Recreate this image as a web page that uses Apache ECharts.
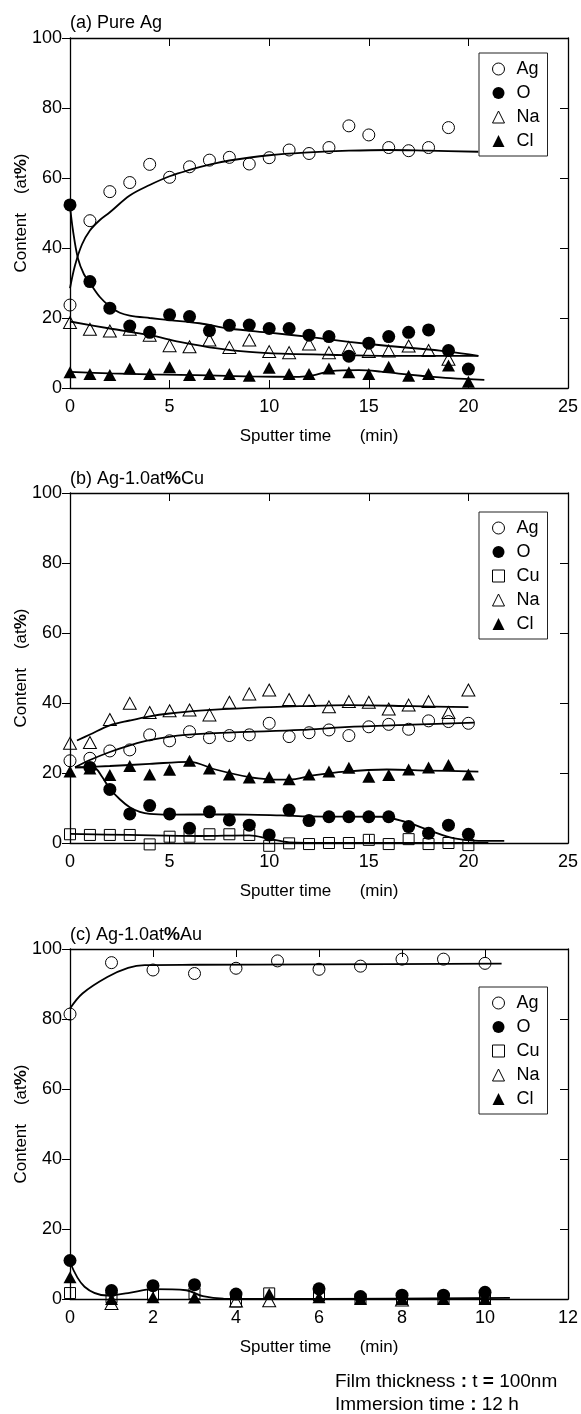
<!DOCTYPE html>
<html><head><meta charset="utf-8">
<script src="https://cdn.jsdelivr.net/npm/echarts@6/dist/echarts.min.js"></script>
<style>html,body{margin:0;padding:0;background:#fff}#c{width:581px;height:1414px}</style>
</head><body><div id="c"></div>
<script>
// ---------- DATA ----------
const panelTitles = ['(a) Pure Ag', '(b) Ag-1.0at%Cu', '(c) Ag-1.0at%Au'];
const xAxisTitle = 'Sputter time      (min)';
const yAxisTitle = 'Content    (at%)';
const footer1 = ['Film thickness', ' : ', 't ', '= ', '100nm'];
const footer2 = ['Immersion time', ' : ', '12 h'];
const xMaxes = [25, 25, 12];
const xSteps = [5, 5, 2];
const yMax = 100, yStep = 20;
const legendNamesA = ['Ag', 'O', 'Na', 'Cl'];
const legendNamesBC = ['Ag', 'O', 'Cu', 'Na', 'Cl'];

// panel (a) Pure Ag
const aAg = [[0,23.7],[1,47.8],[2,56.1],[3,58.7],[4,63.9],[5,60.2],[6,63.2],[7,65.1],[8,65.9],[9,64],[10,65.8],[11,68],[12,67],[13,68.7],[14,74.9],[15,72.3],[16,68.7],[17,67.8],[18,68.7],[19,74.4]];
const aO  = [[0,52.3],[1,30.4],[2,22.8],[3,17.7],[4,15.9],[5,20.9],[6,20.4],[7,16.4],[8,17.9],[9,18],[10,17],[11,17],[12,15.1],[13,14.7],[14,9.1],[15,12.8],[16,14.7],[17,15.9],[18,16.6],[19,10.7],[20,5.4]];
const aNa = [[0,18.7],[1,16.8],[2,16.3],[3,16.8],[4,15.1],[5,12.1],[6,11.8],[7,13.7],[8,11.6],[9,13.7],[10,10.4],[11,10.1],[12,12.6],[13,10.1],[14,11.6],[15,10.4],[16,10.6],[17,12],[18,10.7],[19,8.2]];
const aCl = [[0,4.5],[1,4],[2,3.7],[3,5.6],[4,4],[5,5.9],[6,3.7],[7,4],[8,4],[9,3.5],[10,5.8],[11,4],[12,4],[13,5.6],[14,4.5],[15,4],[16,6.1],[17,3.5],[18,4],[19,6.4],[20,1.8]];
// fitted curves (a)
const aAgFit = [[0,28.5],[0.25,35],[0.6,41],[1,45],[1.5,48],[2,50.2],[3,55],[4,58],[5,60.5],[6,62.3],[7,63.8],[8,65],[10,66.5],[12,67.3],[14,67.8],[16,68],[18,67.8],[20.5,67.5]];
const aOFit  = [[0,52],[0.15,45],[0.4,37],[0.7,32.5],[1,30],[1.5,26],[2,23.3],[2.5,21.5],[3,20.7],[4,20],[5,19.4],[6.5,18.5],[8,17],[10,15.8],[12,14.6],[14,13.2],[16,12],[18,11],[19,10.4],[20.5,9.2]];
const aNaFit = [[0,19],[2,17],[4,15.1],[5.5,13.2],[7.4,11.3],[9,10.3],[10.6,9.8],[13,9.5],[15.6,9.2],[20.5,9.2]];
const aClFit = [[0,4.6],[2,4.2],[4,3.9],[7,3.6],[9,3.3],[11.5,3.2],[12.2,3.6],[13.1,4.8],[14.5,5.1],[15.6,4.7],[16.5,4.1],[17.6,3.5],[19.1,2.8],[20.8,2.3]];

// panel (b) Ag-1.0at%Cu
const bAg = [[0,23.5],[1,24.2],[2,26.3],[3,26.6],[4,30.9],[5,29.2],[6,31.8],[7,30.1],[8,30.7],[9,30.9],[10,34.2],[11,30.4],[12,31.5],[13,32.3],[14,30.7],[15,33.2],[16,33.9],[17,32.5],[18,34.9],[19,34.7],[20,34.2]];
const bO  = [[1,21.6],[2,15.3],[3,8.3],[4,10.7],[5,8.3],[6,4.2],[7,8.9],[8,6.6],[9,5.1],[10,2.3],[11,9.4],[12,6.4],[13,7.5],[14,7.5],[15,7.5],[16,7.5],[17,4.7],[18,2.8],[19,5.1],[20,2.5]];
const bCu = [[0,2.5],[1,2.3],[2,2.3],[3,2.3],[4,-0.4],[5,1.8],[6,1.8],[7,2.5],[8,2.5],[9,2.3],[10,-0.8],[11,-0.1],[12,-0.3],[13,0],[14,0],[15,0.9],[16,-0.3],[17,1.1],[18,-0.3],[19,0],[20,-0.6]];
const bNa = [[0,28.5],[1,28.7],[2,35.3],[3,39.9],[4,37.3],[5,37.8],[6,38],[7,36.6],[8,40.2],[9,42.6],[10,43.7],[11,41],[12,40.7],[13,38.9],[14,40.4],[15,40.2],[16,38.3],[17,39.4],[18,40.4],[19,37.3],[20,43.7]];
const bCl = [[0,20.4],[1,21.3],[2,19.4],[3,22],[4,19.6],[5,20.9],[6,23.5],[7,21.3],[8,19.6],[9,18.7],[10,18.8],[11,18.2],[12,19.6],[13,20.4],[14,21.5],[15,18.9],[16,19.4],[17,21],[18,21.6],[19,22.3],[20,19.6]];
// fitted curves (b)
const bAgFit = [[0.25,21.6],[1,23.7],[2,26],[3,27.9],[4,29.4],[5.8,30.9],[8.2,31.6],[11.6,32.3],[13.8,33.1],[17.2,33.8],[20.3,34.4]];
const bOFit  = [[0.25,21.6],[1.2,21.5],[1.6,19],[2,15.5],[2.5,12.5],[3,10.2],[3.5,8.9],[4,8.3],[5,8.1],[8,8.2],[10.6,7.9],[12,7.6],[15.6,7.5],[16.8,6.1],[18,3.7],[19.3,1.3],[20.5,0.6],[21.8,0.6]];
const bCuFit = [[0,2.6],[3,2.3],[6.5,2.0],[9,2.2],[10,1.2],[11,0.2],[13,0],[21,0]];
const bNaFit = [[0.35,29.3],[1,31],[2,33.6],[3,35],[4,36.2],[5,37],[6.5,37.8],[9,38.6],[11.6,39.1],[14,39.4],[17.2,39.1],[20,38.8]];
const bClFit = [[0.25,21.6],[2,22],[4,22.6],[6,23.2],[7.3,21],[9,18.8],[10,18.2],[11,18.1],[12.2,19.3],[13.8,20.4],[15.9,21],[18,20.7],[20.5,20.4]];

// panel (c) Ag-1.0at%Au
const cAg = [[0,81.4],[1,96.1],[2,94],[3,93],[4,94.5],[5,96.6],[6,94.2],[7,95.1],[8,97.1],[9,97.1],[10,95.9]];
const cO  = [[0,11],[1,2.4],[2,3.8],[3,4.1],[4,1.4],[6,2.9],[7,0.7],[8,1.1],[9,1.1],[10,1.9]];
const cCu = [[0,1.7],[1,0.5],[2,1.2],[3,1.6],[4,-0.7],[4.8,1.6],[6,1],[7,0],[8,0],[9,0],[10,0]];
const cNa = [[1,-1.3],[4,-0.6],[4.8,-0.5],[8,-0.3]];
const cCl = [[0,6.2],[1,0],[2,0.5],[3,0.4],[4.8,1.4],[6,0.5],[7,0],[8,0],[9,0],[10,0]];
// fitted curves (c)
const cAgFit = [[0,83],[0.3,87.3],[0.9,92],[1.4,94.6],[1.8,95.4],[3,95.5],[6,95.6],[10.4,95.8]];
const cOFit  = [[0,10.5],[0.35,3.5],[0.9,1],[1.4,1.7],[2,2.8],[2.8,2.5],[3.2,0.8],[3.7,0.1],[6,0],[10.6,0.3]];

// ---------- CHART ----------
const FONT = '"Liberation Sans", Arial, Helvetica, sans-serif';
const chart = echarts.init(document.getElementById('c'), null, {renderer: 'canvas'});

const gridTops = [38, 493, 949];
const GRID_LEFT = 70, GRID_W = 498, GRID_H = 350;

const markerStyles = {
  Ag: {symbol: 'circle', size: 12, hollow: true},
  O:  {symbol: 'circle', size: 13, hollow: false},
  Cu: {symbol: 'rect', size: 11, hollow: true},
  Na: {symbol: 'triangle', size: [13, 12], hollow: true},
  Cl: {symbol: 'triangle', size: [13, 12], hollow: false}
};
function itemStyleFor(name) {
  return markerStyles[name].hollow
    ? {color: 'transparent', borderColor: '#000', borderWidth: 1, opacity: 1}
    : {color: '#000', borderWidth: 0, opacity: 1};
}
const boldPct = s => s.replace('%', '{b|%}');

const panels = [
  {points: {Ag: aAg, O: aO, Na: aNa, Cl: aCl}, fits: [aAgFit, aOFit, aNaFit, aClFit], legend: legendNamesA},
  {points: {Ag: bAg, O: bO, Cu: bCu, Na: bNa, Cl: bCl}, fits: [bAgFit, bOFit, bCuFit, bNaFit, bClFit], legend: legendNamesBC},
  {points: {Ag: cAg, O: cO, Cu: cCu, Na: cNa, Cl: cCl}, fits: [cAgFit, cOFit], legend: legendNamesBC}
];

const grid = [], xAxis = [], yAxis = [], series = [], title = [], legend = [];
const axisLine = {show: true, onZero: false, lineStyle: {color: '#000', width: 1.3}};
const tickIn = {show: true, inside: true, length: 8, lineStyle: {color: '#000', width: 1}};
const tickOut = {show: true, inside: false, length: 8, lineStyle: {color: '#000', width: 1}};
const labelStyle = {fontSize: 18, color: '#000', fontFamily: FONT};
const legendTops = [53, 512, 987];
const titleTops = [14, 470, 926];

panels.forEach((p, i) => {
  grid.push({left: GRID_LEFT, top: gridTops[i], width: GRID_W, height: GRID_H, containLabel: false, outerBoundsMode: 'none'});
  const common = {type: 'value', gridIndex: i, min: 0, max: xMaxes[i], interval: xSteps[i], splitLine: {show: false}};
  xAxis.push(Object.assign({}, common, {
    position: 'bottom', axisLine, axisTick: tickIn,
    axisLabel: Object.assign({margin: 10, showMinLabel: true, showMaxLabel: true}, labelStyle),
    name: xAxisTitle, nameLocation: 'middle', nameGap: 40, nameMoveOverlap: false,
    nameTextStyle: {fontSize: 17, color: '#000', fontFamily: FONT}
  }));
  xAxis.push(Object.assign({}, common, {position: 'top', axisLine, axisTick: tickIn, axisLabel: {show: false}}));
  const ycommon = {type: 'value', gridIndex: i, min: 0, max: yMax, interval: yStep, splitLine: {show: false}};
  yAxis.push(Object.assign({}, ycommon, {
    position: 'left', axisLine, axisTick: tickOut,
    axisLabel: Object.assign({margin: 8, showMinLabel: true, showMaxLabel: true}, labelStyle),
    name: boldPct(yAxisTitle), nameLocation: 'middle', nameGap: 40, nameMoveOverlap: false,
    nameTextStyle: {fontSize: 17, color: '#000', fontFamily: FONT,
      rich: {b: {fontSize: 17, fontWeight: 'bold', color: '#000', fontFamily: FONT}}}
  }));
  yAxis.push(Object.assign({}, ycommon, {position: 'right', axisLine, axisTick: tickIn, axisLabel: {show: false}}));

  // fitted curves
  p.fits.forEach((f, k) => {
    series.push({
      type: 'line', name: 'fit' + i + '_' + k, xAxisIndex: 2 * i, yAxisIndex: 2 * i,
      data: f, smooth: 0.35, showSymbol: false, symbol: 'none', silent: true,
      lineStyle: {color: '#000', width: 1.8}, z: 2, animation: false
    });
  });
  // markers
  Object.keys(p.points).forEach(name => {
    const m = markerStyles[name];
    series.push({
      type: 'scatter', name, xAxisIndex: 2 * i, yAxisIndex: 2 * i,
      data: p.points[name], symbol: m.symbol, symbolSize: m.size,
      itemStyle: itemStyleFor(name), clip: false, z: 3, animation: false
    });
  });

  title.push({
    text: boldPct(panelTitles[i]), left: 70, top: titleTops[i], padding: 0,
    textStyle: {fontSize: 18, fontWeight: 'normal', color: '#000', fontFamily: FONT,
      rich: {b: {fontSize: 18, fontWeight: 'bold', color: '#000', fontFamily: FONT}}}
  });

  legend.push({
    left: 479, top: legendTops[i], orient: 'vertical', padding: [7, 8, 6, 13],
    itemGap: 6, itemWidth: 12, itemHeight: 12,
    borderColor: '#222', borderWidth: 1, backgroundColor: '#fff', selectedMode: false,
    textStyle: {fontSize: 18, color: '#000', fontFamily: FONT, lineHeight: 18, padding: [0, 0, 0, 7]},
    data: p.legend.map(n => ({name: n, icon: markerStyles[n].symbol, itemStyle: itemStyleFor(n)}))
  });
});

// footer notes
title.push({
  text: footer1[0] + '{b|' + footer1[1] + '}' + footer1[2] + '{b|' + footer1[3] + '}' + footer1[4],
  left: 335, top: 1372, padding: 0,
  textStyle: {fontSize: 19, fontWeight: 'normal', color: '#000', fontFamily: FONT,
    rich: {b: {fontSize: 19, fontWeight: 'bold', color: '#000', fontFamily: FONT}}}
});
title.push({
  text: footer2[0] + '{b|' + footer2[1] + '}' + footer2[2],
  left: 335, top: 1395, padding: 0,
  textStyle: {fontSize: 19, fontWeight: 'normal', color: '#000', fontFamily: FONT,
    rich: {b: {fontSize: 19, fontWeight: 'bold', color: '#000', fontFamily: FONT}}}
});

chart.setOption({
  backgroundColor: '#fff', animation: false,
  title, legend, grid, xAxis, yAxis, series,
  tooltip: {show: false}
});
</script></body></html>
